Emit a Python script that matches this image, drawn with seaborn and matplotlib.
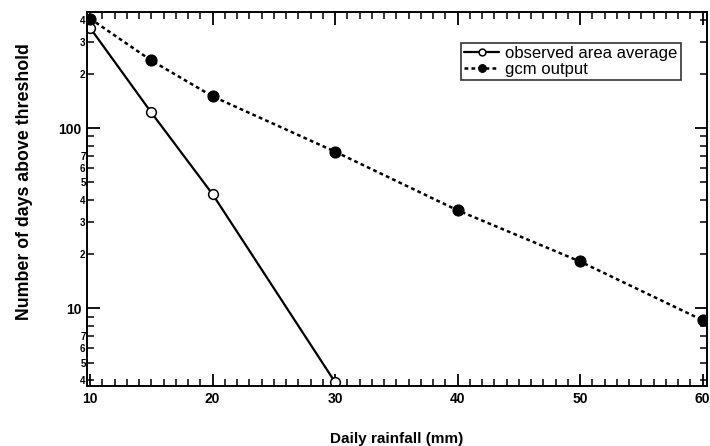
import matplotlib
matplotlib.use("Agg")
import matplotlib.pyplot as plt
import matplotlib.ticker as mticker
import seaborn as sns
import pandas as pd

obs_x = [10, 15, 20, 30]
obs_y = [360, 122, 43, 3.9]
gcm_x = [10, 15, 20, 30, 40, 50, 60]
gcm_y = [405, 237, 150, 74, 35, 18.2, 8.6]
obs_label = "observed area average"
gcm_label = "gcm output"
x_ticks = [10, 20, 30, 40, 50, 60]

sns.set_theme(style="ticks")
plt.rcParams['font.family'] = ['Liberation Sans', 'DejaVu Sans']
plt.rcParams['font.weight'] = 'bold'
plt.rcParams['text.color'] = 'black'
plt.rcParams['axes.labelcolor'] = 'black'
plt.rcParams['xtick.color'] = 'black'
plt.rcParams['ytick.color'] = 'black'

fig = plt.figure(figsize=(7.1, 4.46), dpi=100)
ax = fig.add_axes([0.1225, 0.134, 0.873, 0.839])

df_obs = pd.DataFrame({"x": obs_x, "y": obs_y})
df_gcm = pd.DataFrame({"x": gcm_x, "y": gcm_y})

sns.lineplot(data=df_obs, x="x", y="y", ax=ax, color="black", linewidth=1.6,
             marker="o", markersize=7, markerfacecolor="white",
             markeredgecolor="black", markeredgewidth=1.1, label=obs_label)
sns.lineplot(data=df_gcm, x="x", y="y", ax=ax, color="black", linewidth=1.8,
             marker="o", markersize=8, markerfacecolor="black",
             markeredgecolor="black", label=gcm_label)
ax.lines[1].set_dashes([1.5, 1.3])

ax.set_yscale("log")
ax.set_xlim(9.75, 60.35)
ax.set_ylim(3.7, 440)

ax.set_xticks(x_ticks)
ax.xaxis.set_minor_locator(mticker.MultipleLocator(1))
ax.yaxis.set_major_locator(mticker.FixedLocator([10, 100]))
ax.yaxis.set_major_formatter(mticker.FixedFormatter(["10", "100"]))
minors = [4, 5, 6, 7, 8, 9, 20, 30, 40, 50, 60, 70, 80, 90, 200, 300, 400]
minor_labels = ["4", "5", "6", "7", "", "", "2", "3", "4", "5", "6", "7", "", "", "2", "3", "4"]
ax.yaxis.set_minor_locator(mticker.FixedLocator(minors))
ax.yaxis.set_minor_formatter(mticker.FixedFormatter(minor_labels))

ax.tick_params(axis="both", which="major", direction="in", length=9, width=1.3,
               labelsize=10, top=True, right=True, pad=4)
ax.tick_params(axis="both", which="minor", direction="in", length=5, width=1.1,
               top=True, right=True)
ax.tick_params(axis="y", which="minor", labelsize=7, pad=1)
for lab in ax.get_xticklabels() + ax.get_yticklabels():
    lab.set_fontweight("bold")
for lab in ax.yaxis.get_minorticklabels():
    lab.set_fontweight("bold")

for s in ax.spines.values():
    s.set_linewidth(1.4)
    s.set_color("black")

ax.set_xlabel("Daily rainfall (mm)", fontsize=11, fontweight="bold", labelpad=19)
ax.set_ylabel("Number of days above threshold", fontsize=12.8, fontweight="bold")
ax.yaxis.set_label_coords(-0.087, 0.548)

leg = ax.legend(loc="upper right", bbox_to_anchor=(0.958, 0.918), frameon=True,
                fancybox=False, edgecolor="black", fontsize=12, handlelength=2.1,
                handletextpad=0.35, borderpad=0.2, labelspacing=0.05,
                markerscale=0.7, borderaxespad=0)
leg.get_frame().set_linewidth(1.2)
for t in leg.get_texts():
    t.set_fontweight("normal")

fig.savefig("out.png", dpi=100)
